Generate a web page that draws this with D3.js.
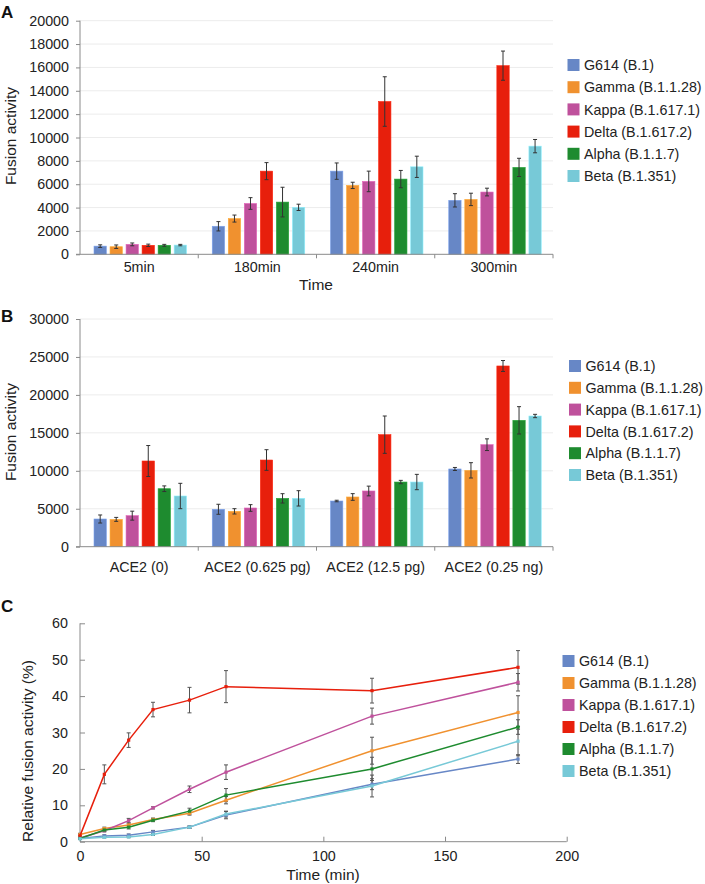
<!DOCTYPE html>
<html>
<head>
<meta charset="utf-8">
<script src="https://cdn.jsdelivr.net/npm/d3@7"></script>
<style>
  body { margin: 0; background: #fff; }
  svg text { font-family: "Liberation Sans", Arial, Helvetica, sans-serif; fill: #222; }
  .grid line { stroke: #ececec; }
  .axis path, .axis line { stroke: #8a8a8a; }
</style>
</head>
<body>
<div class="chartContainer"></div>
<script>
// variants (series)
const variants = ["G614 (B.1)", "Gamma (B.1.1.28)", "Kappa (B.1.617.1)", "Delta (B.1.617.2)", "Alpha (B.1.1.7)", "Beta (B.1.351)"]
const colors = ["#6787c6", "#f0912f", "#bf519c", "#e71f0c", "#1e8b2f", "#77c9d7"]

// panel A
const timeCats = ["5min", "180min", "240min", "300min"]
const timeVals = [
    [700, 2400, 7120, 4620],
    [650, 3060, 5900, 4700],
    [850, 4350, 6240, 5330],
    [770, 7120, 13080, 16150],
    [770, 4470, 6440, 7440],
    [790, 4020, 7490, 9260]
]
const timeErr = [
    [110, 400, 700, 570],
    [150, 300, 270, 530],
    [120, 500, 880, 330],
    [100, 730, 2120, 1250],
    [80, 1270, 740, 780],
    [60, 270, 910, 570]
]

// panel B
const aceCats = ["ACE2 (0)", "ACE2 (0.625 pg)", "ACE2 (12.5 pg)", "ACE2 (0.25 ng)"]
const aceVals = [
    [3650, 4930, 6020, 10240],
    [3600, 4660, 6550, 10060],
    [4090, 5100, 7340, 13440],
    [11290, 11420, 14760, 23810],
    [7640, 6370, 8520, 16650],
    [6680, 6370, 8520, 17220]
]
const aceErr = [
    [530, 660, 100, 200],
    [260, 350, 440, 1010],
    [590, 440, 640, 770],
    [2040, 1360, 2460, 720],
    [370, 615, 220, 1800],
    [1670, 1010, 1010, 220]
]

// panel C
const minutes = [0, 10, 20, 30, 45, 60, 120, 180]
const relVals = [
    [0.9, 1.6, 1.8, 2.7, 4.0, 7.3, 15.8, 22.7],
    [2.0, 3.6, 4.6, 6.1, 7.8, 11.4, 25.0, 35.5],
    [1.0, 3.0, 5.8, 9.3, 14.4, 19.1, 34.5, 43.8],
    [1.6, 18.5, 27.9, 36.3, 38.9, 42.6, 41.5, 47.9],
    [0.9, 3.2, 4.0, 5.9, 8.4, 12.8, 20.0, 31.5],
    [0.8, 1.2, 1.3, 2.0, 4.0, 7.6, 15.3, 27.6]
]
const relErr = [
    [0.2, 0.3, 0.3, 0.4, 0.3, 1.0, 1.5, 1.2],
    [0.3, 0.4, 0.5, 0.4, 0.5, 1.0, 3.7, 4.6],
    [0.3, 0.3, 0.6, 0.3, 0.9, 2.0, 2.2, 2.4],
    [0.5, 2.6, 2.0, 2.0, 3.5, 4.4, 3.4, 4.6],
    [0.2, 0.4, 0.5, 0.4, 0.8, 1.8, 3.2, 2.0],
    [0.2, 0.2, 0.2, 0.3, 0.3, 0.8, 3.0, 4.0]
]

const svg = d3.select(".chartContainer")
    .append("svg")
    .attr("width", 705)
    .attr("height", 884)

function legend(x, y, step) {
    let lg = svg.append("g").attr("transform", `translate(${x},${y})`)
    variants.forEach((v, i) => {
        lg.append("rect")
            .attr("x", 0).attr("y", i * step - 6)
            .attr("width", 12).attr("height", 12)
            .attr("fill", colors[i])
        lg.append("text")
            .attr("x", 16.5).attr("y", i * step + 5.2)
            .style("font-size", "14.3px")
            .text(v)
    })
}

function panelLabel(t, y) {
    svg.append("text")
        .attr("x", 1).attr("y", y)
        .style("font-size", "17px").style("font-weight", "bold")
        .style("fill", "#111")
        .text(t)
}

function yTitle(t, x, y) {
    svg.append("text")
        .attr("transform", `translate(${x},${y}) rotate(-90)`)
        .attr("text-anchor", "middle")
        .style("font-size", "15.5px")
        .text(t)
}

function barPanel(opt) {
    const x = d3.scaleBand().domain(opt.cats).range([80, 553])
    const x1 = d3.scaleBand().domain(d3.range(variants.length))
        .range([14, 106.5]).paddingInner(0.23)
    const y = d3.scaleLinear().domain([0, opt.max]).range([opt.bottom, opt.top])
    const ticks = d3.range(0, opt.max + 1, opt.step)

    let g = svg.append("g")

    g.append("g").attr("class", "grid")
        .selectAll("line").data(ticks.slice(1)).enter()
        .append("line")
        .attr("x1", 80).attr("x2", 553)
        .attr("y1", d => y(d)).attr("y2", d => y(d))

    // bars
    let items = []
    opt.vals.forEach((row, s) => row.forEach((v, c) => items.push({ s, c, v, e: opt.err[s][c] })))

    g.selectAll("rect.bar").data(items).enter()
        .append("rect").classed("bar", true)
        .attr("x", d => x(opt.cats[d.c]) + x1(d.s))
        .attr("width", x1.bandwidth())
        .attr("y", d => y(d.v))
        .attr("height", d => y(0) - y(d.v))
        .attr("fill", d => colors[d.s])
        .attr("stroke", d => d3.color(colors[d.s]).brighter(0.5))
        .attr("stroke-width", 0.6)

    // error bars
    let eb = g.selectAll("g.err").data(items).enter()
        .append("g").classed("err", true)
        .attr("transform", d => `translate(${x(opt.cats[d.c]) + x1(d.s) + x1.bandwidth() / 2},0)`)
        .attr("stroke", "#333").attr("stroke-width", 1)
    eb.append("line").attr("y1", d => y(d.v - d.e)).attr("y2", d => y(d.v + d.e))
    eb.append("line").attr("x1", -2).attr("x2", 2).attr("y1", d => y(d.v + d.e)).attr("y2", d => y(d.v + d.e))
    eb.append("line").attr("x1", -2).attr("x2", 2).attr("y1", d => y(d.v - d.e)).attr("y2", d => y(d.v - d.e))

    // axes
    g.append("g").attr("class", "axis")
        .attr("transform", "translate(80,0)")
        .call(d3.axisLeft(y).tickValues(ticks).tickSize(4).tickPadding(7).tickFormat(d3.format("d")))
        .call(a => a.selectAll("text").style("font-size", "14.3px").style("font-family", null))
        .call(a => a.select(".domain").attr("d", `M0,${opt.top}V${opt.bottom}`))

    let xa = g.append("g").attr("class", "axis")
        .attr("transform", `translate(0,${opt.bottom})`)
    xa.append("line").attr("x1", 76).attr("x2", 553)
    xa.selectAll("line.tk").data(d3.range(opt.cats.length + 1)).enter()
        .append("line").classed("tk", true)
        .attr("x1", i => 80 + i * x.bandwidth()).attr("x2", i => 80 + i * x.bandwidth())
        .attr("y1", 0).attr("y2", i => i === 0 ? 0 : 4)
    xa.selectAll("text").data(opt.cats).enter()
        .append("text")
        .attr("x", d => x(d) + x.bandwidth() / 2)
        .attr("y", opt.labelDy)
        .attr("text-anchor", "middle")
        .style("font-size", "14.3px")
        .text(d => d)
}

// A
panelLabel("A", 18)
barPanel({ cats: timeCats, vals: timeVals, err: timeErr, max: 20000, step: 2000, top: 20.7, bottom: 254.3, labelDy: 17.5 })
yTitle("Fusion activity", 16, 136)
svg.append("text").attr("x", 316).attr("y", 290).attr("text-anchor", "middle")
    .style("font-size", "15.5px").text("Time")
legend(567.5, 65, 22.2)

// B
panelLabel("B", 322)
barPanel({ cats: aceCats, vals: aceVals, err: aceErr, max: 30000, step: 5000, top: 319, bottom: 546.7, labelDy: 25 })
yTitle("Fusion activity", 16, 432)
legend(569, 366, 21.8)

// C
panelLabel("C", 612)
const xc = d3.scaleLinear().domain([0, 200]).range([80, 566.7])
const yc = d3.scaleLinear().domain([0, 60]).range([841.7, 623.3])

let gc = svg.append("g")
gc.append("g").attr("class", "axis")
    .attr("transform", "translate(0,841.7)")
    .call(d3.axisBottom(xc).tickValues([0, 50, 100, 150, 200]).tickSize(-5).tickPadding(9))
    .call(a => a.selectAll("text").style("font-size", "14.3px").style("font-family", null))
    .call(a => a.select(".domain").attr("d", "M80,0H566.7"))
gc.append("g").attr("class", "axis")
    .attr("transform", "translate(80,0)")
    .call(d3.axisLeft(yc).tickValues(d3.range(0, 61, 10)).tickSize(-5).tickPadding(12))
    .call(a => a.selectAll("text").style("font-size", "14.3px").style("font-family", null))
    .call(a => a.select(".domain").attr("d", "M0,623.3V841.7"))

const line = d3.line().x(d => xc(d[0])).y(d => yc(d[1]))

relVals.forEach((row, s) => {
    let pts = row.map((v, i) => [minutes[i], v, relErr[s][i]])
    let eg = gc.append("g").attr("stroke", "#555").attr("stroke-width", 1)
    eg.selectAll("line.v").data(pts).enter().append("line")
        .attr("x1", d => xc(d[0])).attr("x2", d => xc(d[0]))
        .attr("y1", d => yc(d[1] - d[2])).attr("y2", d => yc(d[1] + d[2]))
    eg.selectAll("line.t").data(pts).enter().append("line")
        .attr("x1", d => xc(d[0]) - 2).attr("x2", d => xc(d[0]) + 2)
        .attr("y1", d => yc(d[1] + d[2])).attr("y2", d => yc(d[1] + d[2]))
    eg.selectAll("line.b").data(pts).enter().append("line")
        .attr("x1", d => xc(d[0]) - 2).attr("x2", d => xc(d[0]) + 2)
        .attr("y1", d => yc(d[1] - d[2])).attr("y2", d => yc(d[1] - d[2]))
})

relVals.forEach((row, s) => {
    let pts = row.map((v, i) => [minutes[i], v])
    gc.append("path")
        .attr("d", line(pts))
        .attr("fill", "none")
        .attr("stroke", colors[s])
        .attr("stroke-width", 1.5)
    gc.selectAll(null).data(pts).enter().append("rect")
        .attr("x", d => xc(d[0]) - 1.6).attr("y", d => yc(d[1]) - 1.6)
        .attr("width", 3.2).attr("height", 3.2)
        .attr("fill", colors[s])
})

yTitle("Relative fusion activity (%)", 33, 751)
svg.append("text").attr("x", 323).attr("y", 880).attr("text-anchor", "middle")
    .style("font-size", "15.5px").text("Time (min)")
legend(562.5, 661, 22)
</script>
</body>
</html>
